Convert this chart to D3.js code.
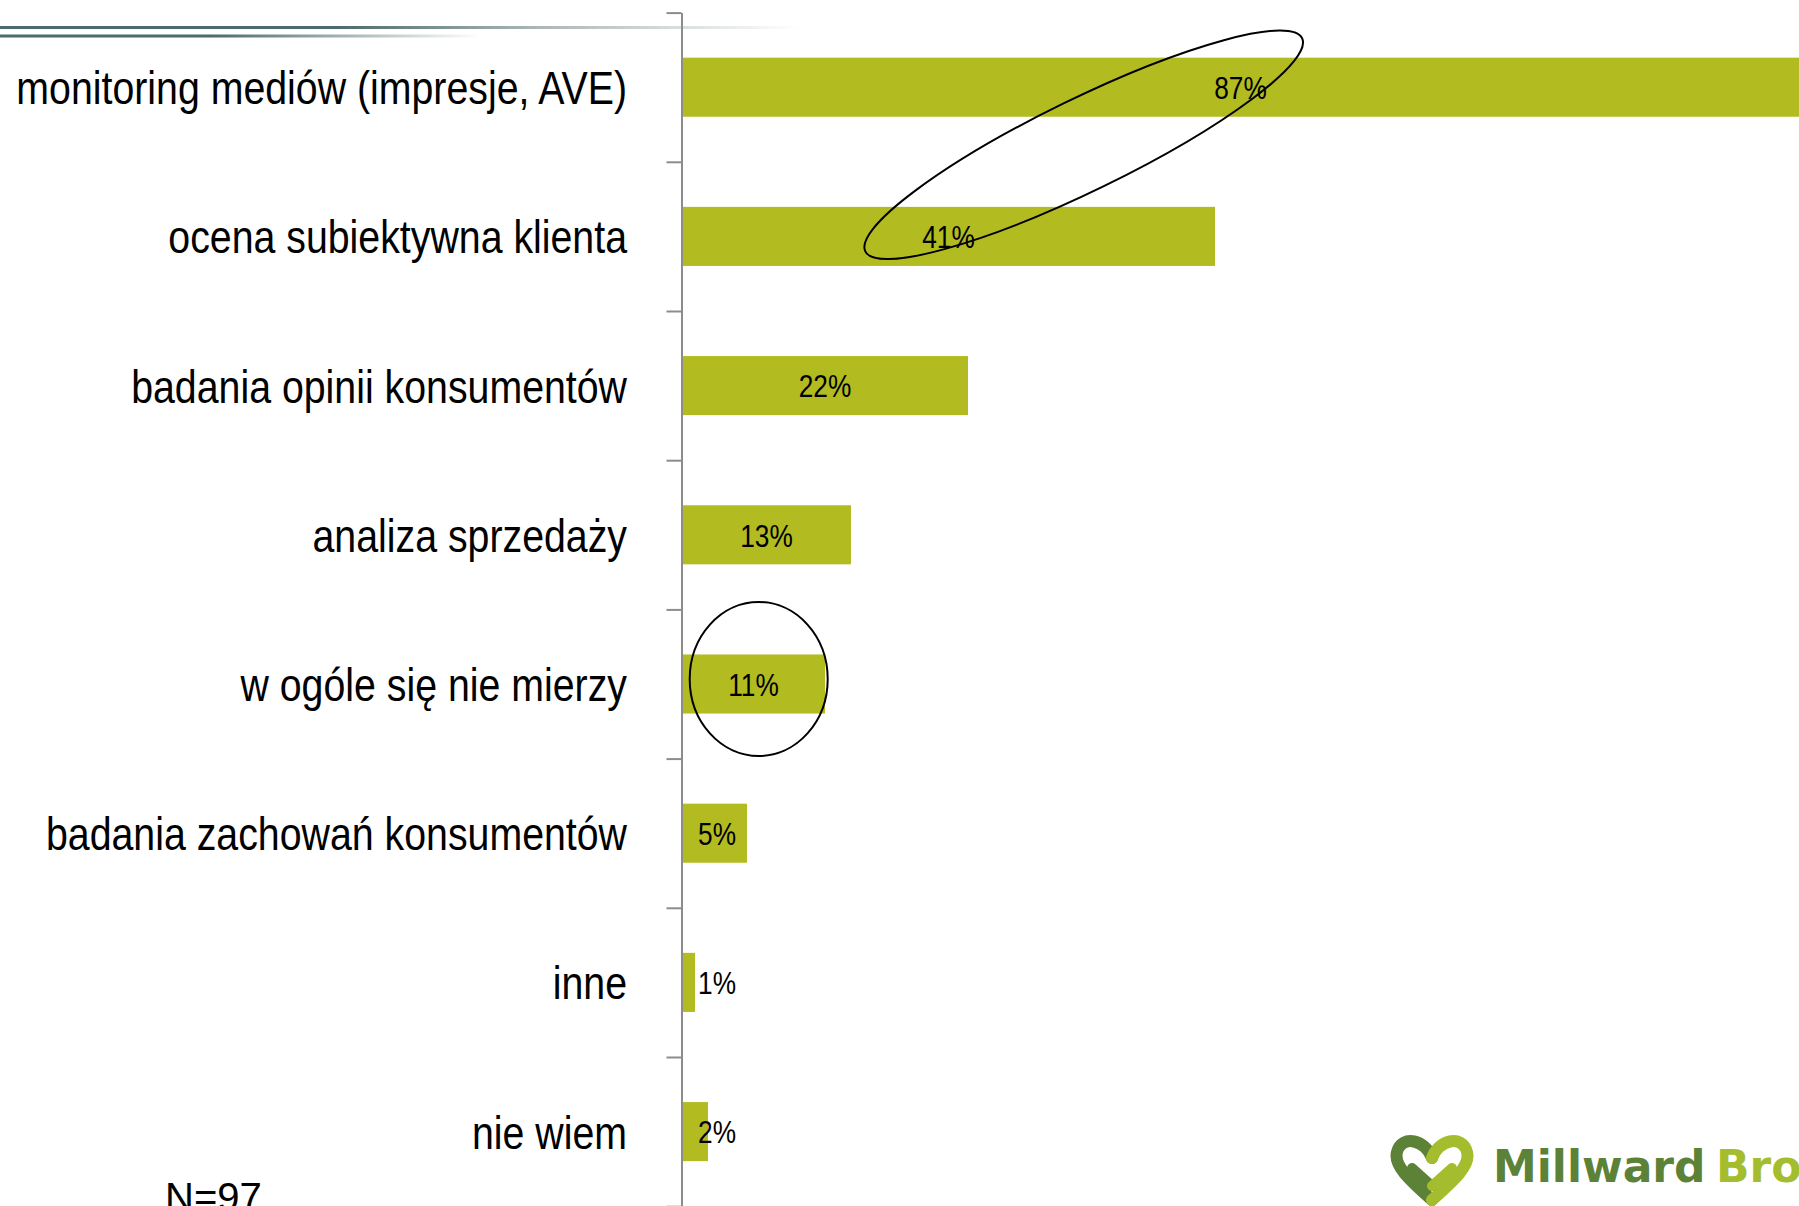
<!DOCTYPE html>
<html>
<head>
<meta charset="utf-8">
<script src="https://cdn.jsdelivr.net/npm/d3@7"></script>
<style>
  body { margin: 0; background: #fff; }
  svg { display: block; }
  text { font-family: "Liberation Sans", Arial, sans-serif; }
</style>
</head>
<body>
<div id="chart"></div>
<script>
// Data
// ===========================
var categories = [
  "monitoring mediów (impresje, AVE)",
  "ocena subiektywna klienta",
  "badania opinii konsumentów",
  "analiza sprzedaży",
  "w ogóle się nie mierzy",
  "badania zachowań konsumentów",
  "inne",
  "nie wiem"
];
var values = [87, 41, 22, 13, 11, 5, 1, 2];
var valueLabels = ["87%", "41%", "22%", "13%", "11%", "5%", "1%", "2%"];
var sampleNote = "N=97";

// Canvas
// ===========================
var width = 1799;
var height = 1206;
var axisX = 682;
var plotTop = 12.6;
var plotBottom = 1206.2;

var svg = d3.select("#chart")
  .append("svg")
  .attr("width", width)
  .attr("height", height);

// squeeze text horizontally to mimic Arial Narrow
function condense(factor) {
  return function(sel) {
    sel.each(function() {
      var len = this.getComputedTextLength();
      d3.select(this)
        .attr("textLength", len * factor)
        .attr("lengthAdjust", "spacingAndGlyphs");
    });
  };
}

// decorative header lines (gradient fade to the right)
var defs = svg.append("defs");
var g1 = defs.append("linearGradient").attr("id", "lineTop")
  .attr("gradientUnits", "userSpaceOnUse")
  .attr("x1", 0).attr("x2", 800).attr("y1", 0).attr("y2", 0);
g1.append("stop").attr("offset", 0).attr("stop-color", "#4b6b6c");
g1.append("stop").attr("offset", 0.42).attr("stop-color", "#4b6b6c");
g1.append("stop").attr("offset", 0.66).attr("stop-color", "#a8b3b3");
g1.append("stop").attr("offset", 1).attr("stop-color", "#ffffff");
var g2 = defs.append("linearGradient").attr("id", "lineBottom")
  .attr("gradientUnits", "userSpaceOnUse")
  .attr("x1", 0).attr("x2", 480).attr("y1", 0).attr("y2", 0);
g2.append("stop").attr("offset", 0).attr("stop-color", "#4b6b6c");
g2.append("stop").attr("offset", 0.44).attr("stop-color", "#4b6b6c");
g2.append("stop").attr("offset", 1).attr("stop-color", "#ffffff");

svg.append("rect").attr("x", 0).attr("y", 26).attr("width", 800).attr("height", 3)
  .attr("fill", "url(#lineTop)");
svg.append("rect").attr("x", 0).attr("y", 34.5).attr("width", 480).attr("height", 3)
  .attr("fill", "url(#lineBottom)");

// Scales
// ===========================
var xScale = d3.scaleLinear()
  .domain([0, 100])
  .range([axisX, axisX + 1300]);

var yScale = d3.scaleBand()
  .domain(categories)
  .range([plotTop, plotBottom])
  .paddingInner(0.604)
  .paddingOuter(0.302);

// index scale for ticks between categories
var yIdx = d3.scaleLinear()
  .domain([0, categories.length])
  .range([plotTop, plotBottom]);

// Bars
// ===========================
svg.append("g")
  .selectAll("rect")
  .data(values)
  .enter()
  .append("rect")
  .attr("x", xScale(0))
  .attr("y", function(d, i) { return yScale(categories[i]); })
  .attr("width", function(d) { return xScale(d) - xScale(0); })
  .attr("height", yScale.bandwidth())
  .attr("fill", "#b2bb20");

// value labels
svg.append("g")
  .selectAll("text")
  .data(values)
  .enter()
  .append("text")
  .attr("x", function(d) {
    var end = Math.min(xScale(d), width);
    return Math.max((xScale(0) + end) / 2, xScale(0) + 35);
  })
  .attr("y", function(d, i) { return yScale(categories[i]) + yScale.bandwidth() / 2; })
  .attr("dy", "0.37em")
  .attr("text-anchor", "middle")
  .attr("font-size", 32)
  .attr("fill", "#000")
  .text(function(d, i) { return valueLabels[i]; })
  .call(condense(0.82));

// Axis
// ===========================
var yAxis = d3.axisLeft(yIdx)
  .tickValues(d3.range(categories.length + 1))
  .tickSize(15)
  .tickSizeOuter(0)
  .tickFormat("");

var axisG = svg.append("g")
  .attr("transform", "translate(" + (axisX - 0.5) + ",0)")
  .call(yAxis);
axisG.select(".domain").attr("stroke", "#8c8c8c").attr("stroke-width", 2);
axisG.selectAll(".tick line").attr("stroke", "#8c8c8c").attr("stroke-width", 2);

// category labels
svg.append("g")
  .selectAll("text")
  .data(categories)
  .enter()
  .append("text")
  .attr("x", 627)
  .attr("y", function(d) { return yScale(d) + yScale.bandwidth() / 2; })
  .attr("dy", "0.36em")
  .attr("text-anchor", "end")
  .attr("font-size", 47)
  .attr("fill", "#000")
  .text(function(d) { return d; })
  .call(condense(0.836));

// Annotations (hand-drawn ellipses)
// ===========================
var c0 = yScale(categories[0]) + yScale.bandwidth() / 2;
var c1 = yScale(categories[1]) + yScale.bandwidth() / 2;
svg.append("ellipse")
  .attr("transform", "translate(" + xScale(30.9) + "," + ((c0 + c1) / 2 - 17) + ") rotate(-26)")
  .attr("rx", 243)
  .attr("ry", 46)
  .attr("fill", "none")
  .attr("stroke", "#000")
  .attr("stroke-width", 2);

var c4 = yScale(categories[4]) + yScale.bandwidth() / 2;
svg.append("ellipse")
  .attr("cx", xScale(5.9))
  .attr("cy", c4 - 5)
  .attr("rx", 69)
  .attr("ry", 77)
  .attr("fill", "none")
  .attr("stroke", "#000")
  .attr("stroke-width", 2);

// sample size note
svg.append("text")
  .attr("x", 165)
  .attr("y", 1211)
  .attr("font-size", 40)
  .attr("fill", "#000")
  .text(sampleNote);

// Logo
// ===========================
var logo = svg.append("g").attr("class", "logo");
var dark = "#5b8236", light = "#a4bd2f";
logo.append("path")
  .attr("d", "M1432,1158 C1426,1140 1402,1134 1397,1152 C1393,1166 1412,1182 1432,1200")
  .attr("fill", "none").attr("stroke", dark).attr("stroke-width", 12)
  .attr("stroke-linecap", "round");
logo.append("path")
  .attr("d", "M1432,1158 C1438,1140 1462,1134 1467,1152 C1471,1166 1452,1182 1432,1200")
  .attr("fill", "none").attr("stroke", light).attr("stroke-width", 12)
  .attr("stroke-linecap", "round");
logo.append("path")
  .attr("d", "M1412,1168 L1432,1186")
  .attr("fill", "none").attr("stroke", dark).attr("stroke-width", 10)
  .attr("stroke-linecap", "round");
logo.append("path")
  .attr("d", "M1452,1168 L1432,1186")
  .attr("fill", "none").attr("stroke", light).attr("stroke-width", 10)
  .attr("stroke-linecap", "round");

var logoText = logo.append("text")
  .attr("y", 1182)
  .attr("font-size", 44)
  .style("font-family", "'DejaVu Sans', sans-serif")
  .style("font-weight", 700);
logoText.append("tspan")
  .attr("x", 1493)
  .attr("fill", dark)
  .text("Millward");
logoText.append("tspan")
  .attr("x", 1716)
  .attr("fill", light)
  .text("Brown");
</script>
</body>
</html>
